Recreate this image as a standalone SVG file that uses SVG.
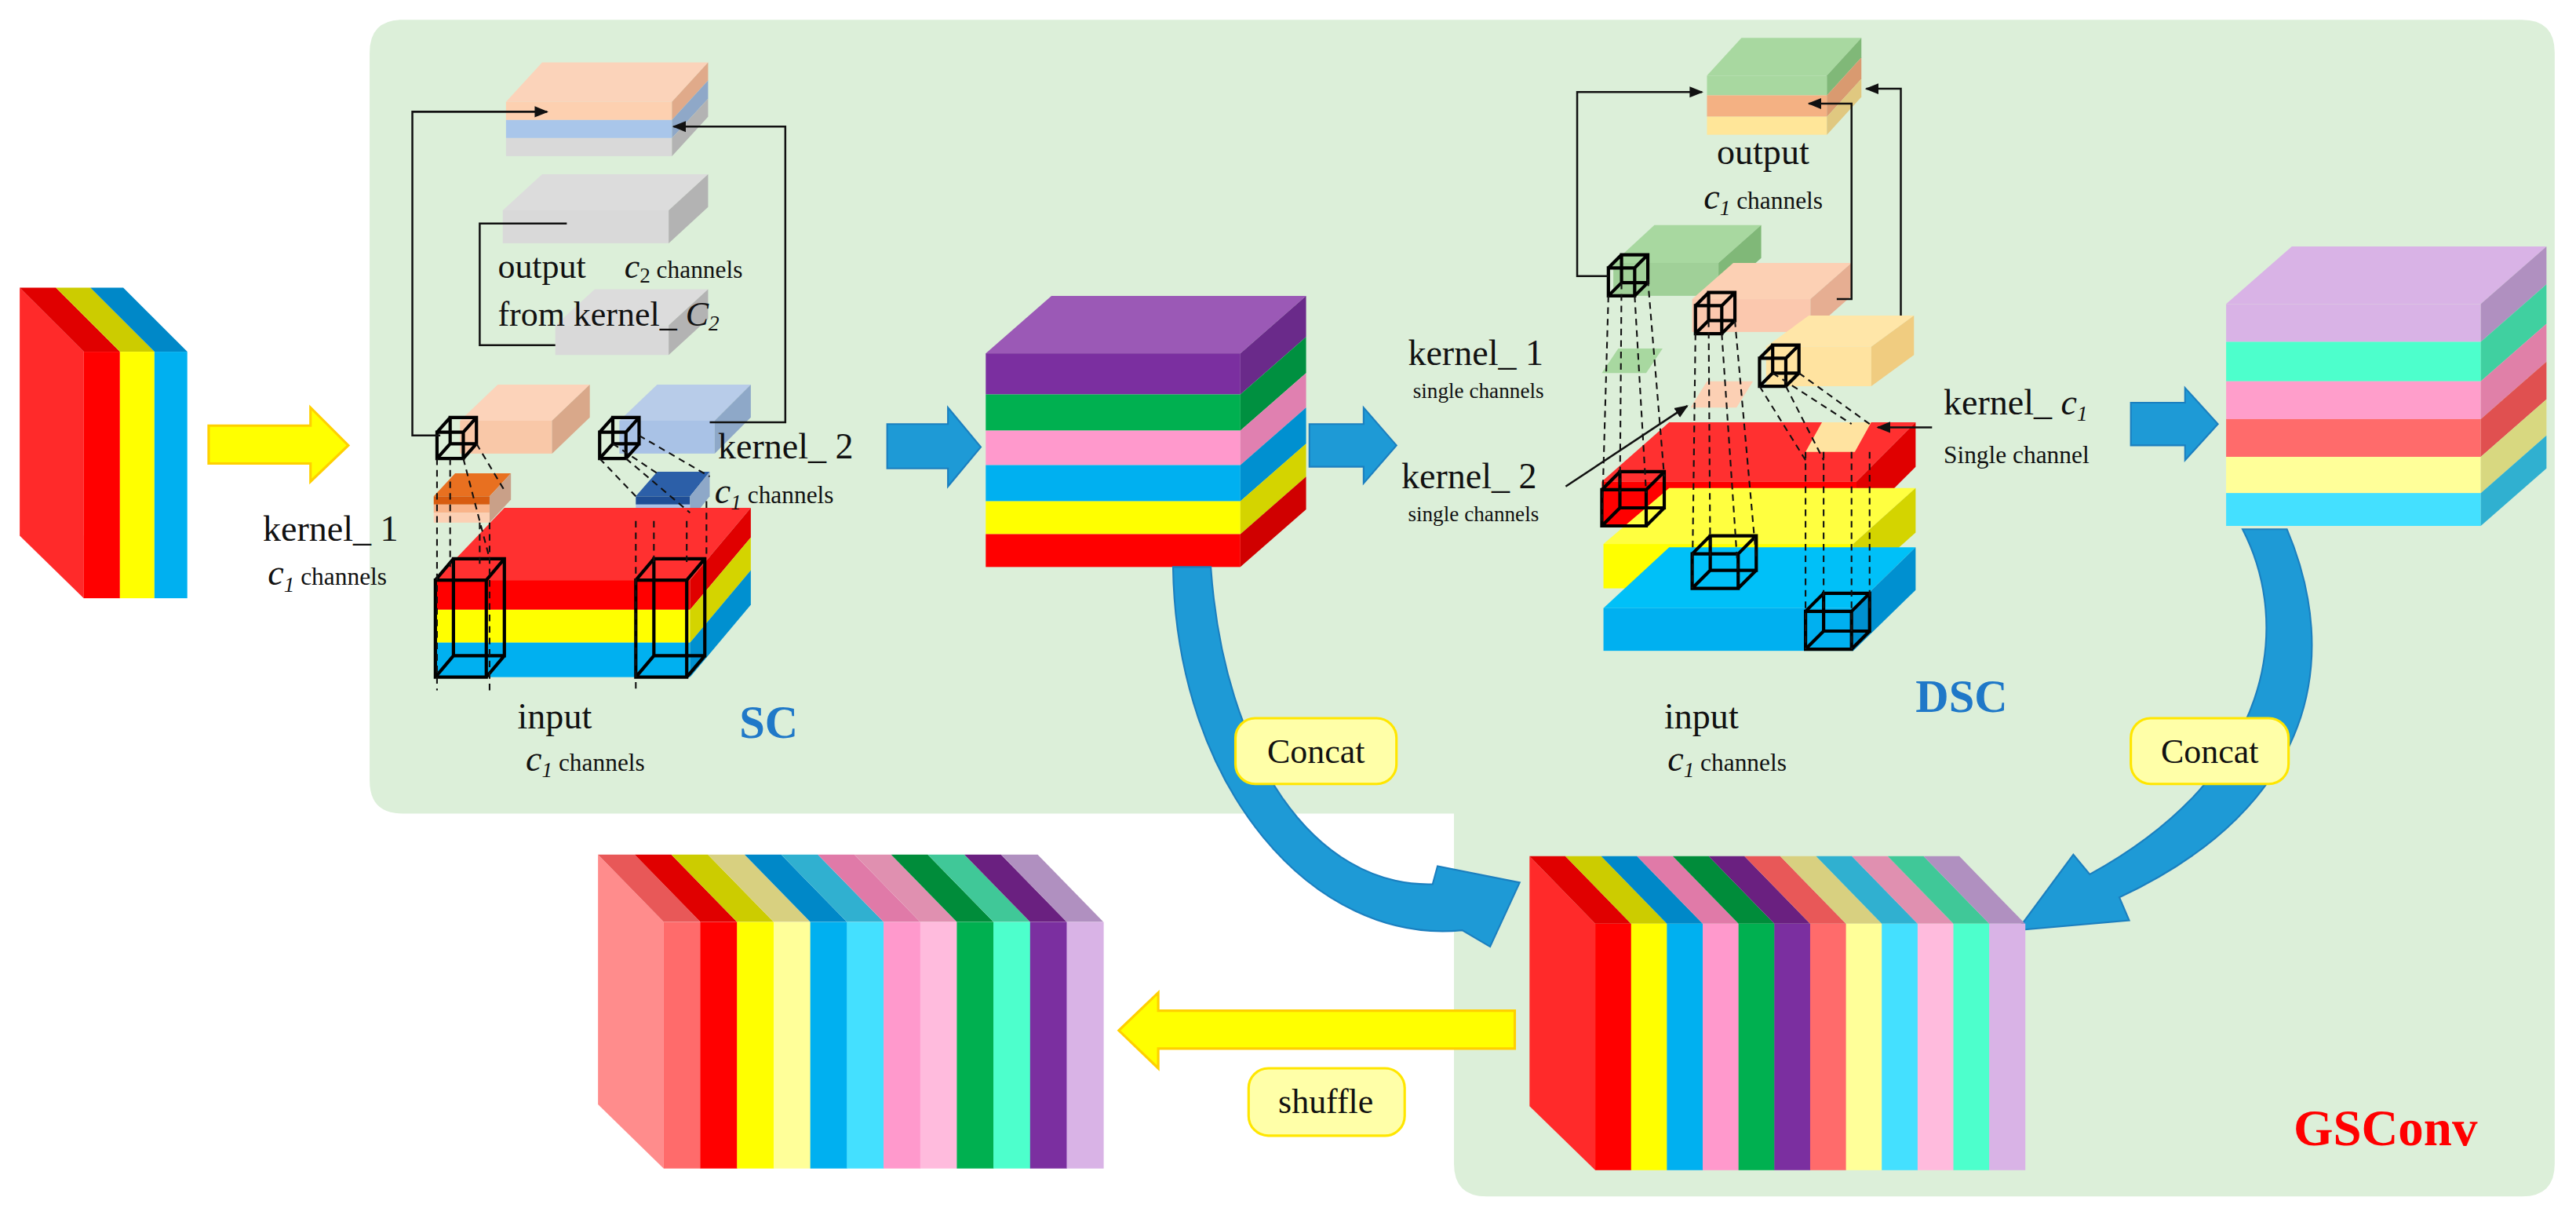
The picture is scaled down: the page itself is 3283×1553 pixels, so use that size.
<svg xmlns="http://www.w3.org/2000/svg" width="3283" height="1553" viewBox="0 0 3283 1553">
<defs>
<style>
.t{font-family:"Liberation Serif","Times New Roman",serif;fill:#111}
.wf{fill:none;stroke:#000;stroke-width:2}
.ln{fill:none;stroke:#111;stroke-width:1.2}
.ds{fill:none;stroke:#111;stroke-width:1;stroke-dasharray:4,3}
.lab{fill:#ffffa8;stroke:#ffe600;stroke-width:1.5}
.bl{fill:#1e9ad6;stroke:#1b7fbf;stroke-width:1}
.ya{fill:#ffff00;stroke:#ffd000;stroke-width:1.5}
</style>
<marker id="ah" viewBox="0 0 10 10" refX="9" refY="5" markerWidth="7" markerHeight="7" orient="auto-start-reverse"><path d="M0,1 L10,5 L0,9 Z" fill="#111"/></marker>
<rect id="csf" x="0" y="562" width="22" height="150"/>
<polygon id="csb" points="-40,521 -18.2,521 21.8,562 0,562"/>
<rect id="ssf" x="0" y="561" width="22.5" height="150"/>
<polygon id="ssb" points="-40,520 -17.7,520 22.3,561 0,561"/>
</defs>
<rect width="3283" height="1553" fill="#fff"/>
<g transform="scale(2.0938)">
<path id="panel" d="M245,12 H1535 Q1555,12 1555,32 V708 Q1555,728 1535,728 H905 Q885,728 885,708 V495 H245 Q225,495 225,475 V32 Q225,12 245,12 Z" fill="#dcefd9"/>

<g id="input-block">
<polygon points="12,175 51,214 51,364 12,326" fill="#ff2a2a"/>
<polygon points="12,175 34,175 73,214 51,214" fill="#e00000"/>
<polygon points="34,175 55,175 94,214 73,214" fill="#cccc00"/>
<polygon points="55,175 75,175 114,214 94,214" fill="#0088c8"/>
<rect x="51" y="214" width="22" height="150" fill="#ff0000"/>
<rect x="73" y="214" width="21" height="150" fill="#ffff00"/>
<rect x="94" y="214" width="20" height="150" fill="#00b0f0"/>
</g>
<polygon id="arrow-in" class="ya" points="127,259 189,259 189,248 212,271 189,293 189,282 127,282"/>

<g id="sc-output">
<polygon points="330,38 431,38 409,62 308,62" fill="#fbd3ba"/>
<rect x="308" y="62" width="101" height="11" fill="#fdd0b0"/>
<rect x="308" y="73" width="101" height="11" fill="#a9c6ea"/>
<rect x="308" y="84" width="101" height="11" fill="#d9d9d9"/>
<polygon points="409,62 431,38 431,49 409,73" fill="#e0aa8a"/>
<polygon points="409,73 431,49 431,60 409,84" fill="#8fa8c8"/>
<polygon points="409,84 431,60 431,71 409,95" fill="#b3b3b3"/>
</g>
<g id="sc-grey">
<polygon points="330,106 431,106 407,128 306,128" fill="#dcdcdc"/>
<rect x="306" y="128" width="101" height="20" fill="#d9d9d9"/>
<polygon points="407,128 431,106 431,126 407,148" fill="#b3b3b3"/>
<polygon points="362,176 431,176 407,198 338,198" fill="#dcdcdc"/>
<rect x="338" y="198" width="69" height="18" fill="#d9d9d9"/>
<polygon points="407,198 431,176 431,194 407,216" fill="#b3b3b3"/>
</g>
<g id="sc-text" class="t">
<text x="303" y="169" font-size="21">output</text>
<text x="380" y="169" font-size="21"><tspan font-style="italic">c</tspan><tspan font-size="13" dy="3">2</tspan><tspan font-size="15" dy="-3"> channels</tspan></text>
<text x="303" y="198" font-size="21">from kernel_ <tspan font-style="italic">C</tspan><tspan font-size="13" font-style="italic" dy="3">2</tspan></text>
</g>
<g id="sc-kernels">
<polygon points="303,234 359,234 336,256 280,256" fill="#fcd3ba"/>
<rect x="280" y="256" width="56" height="20" fill="#f9c8a8"/>
<polygon points="336,256 359,234 359,254 336,276" fill="#d9a88a"/>
<polygon points="400,234 457,234 435,256 377,256" fill="#b8cce9"/>
<rect x="377" y="256" width="58" height="20" fill="#a9c2e6"/>
<polygon points="435,256 457,234 457,254 435,276" fill="#8ea8c8"/>
<polygon points="277,288 311,288 298,302 264,302" fill="#e87020"/>
<rect x="264" y="302" width="34" height="5" fill="#d85c10"/>
<rect x="264" y="307" width="34" height="5" fill="#f9b48a"/>
<rect x="264" y="312" width="34" height="6" fill="#fcd0b4"/>
<polygon points="298,302 311,288 311,304 298,318" fill="#c9a088"/>
<polygon points="400,287 432,287 420,302 387,302" fill="#2c5fa8"/>
<rect x="387" y="302" width="33" height="5" fill="#1f4e96"/>
<rect x="387" y="307" width="33" height="5" fill="#a9c2e8"/>
<rect x="387" y="312" width="33" height="5" fill="#c4d6f0"/>
<polygon points="420,302 432,287 432,302 420,317" fill="#8ea8c8"/>
</g>
<g id="sc-input">
<polygon points="307,309 457,309 420,353 265,353" fill="#ff3030"/>
<rect x="265" y="353" width="155" height="18" fill="#ff0000"/>
<rect x="265" y="371" width="155" height="20" fill="#ffff00"/>
<rect x="265" y="391" width="155" height="21" fill="#00b0f0"/>
<polygon points="420,353 457,309 457,327 420,371" fill="#e00000"/>
<polygon points="420,371 457,327 457,347 420,391" fill="#d4d400"/>
<polygon points="420,391 457,347 457,368 420,412" fill="#0090d0"/>
</g>
<g id="sc-wire">
<path class="wf" d="M265,353 H296 V412 H265 Z M276,340 H307 V399 H276 Z M265,353 L276,340 M296,353 L307,340 M296,412 L307,399 M265,412 L276,399"/>
<path class="wf" d="M387,353 H418 V412 H387 Z M398,340 H429 V399 H398 Z M387,353 L398,340 M418,353 L429,340 M418,412 L429,399 M387,412 L398,399"/>
<path class="wf" stroke-width="1.6" d="M266,263 H282 V279 H266 Z M274,254 H290 V270 H274 Z M266,263 L274,254 M282,263 L290,254 M282,279 L290,270 M266,279 L274,270"/>
<path class="wf" stroke-width="1.6" d="M365,263 H381 V279 H365 Z M373,254 H389 V270 H373 Z M365,263 L373,254 M381,263 L389,254 M381,279 L389,270 M365,279 L373,270"/>
<path class="ds" d="M266,279 V420 M274,279 V345 M282,279 L298,340 M290,270 L308,300 M365,279 L387,302 M373,270 L400,288 M381,279 L420,312 M389,265 L432,290 M387,317 V420 M398,317 V345 M418,317 V345 M430,305 V340 M292,318 V345 M298,318 V420"/>
</g>
<g id="sc-labels" class="t">
<text x="160" y="329" font-size="22">kernel_ 1</text>
<text x="163" y="356" font-size="22"><tspan font-style="italic">c</tspan><tspan font-size="13" font-style="italic" dy="4">1</tspan><tspan font-size="15" dy="-4"> channels</tspan></text>
<text x="437" y="279" font-size="22">kernel_ 2</text>
<text x="435" y="306" font-size="22"><tspan font-style="italic">c</tspan><tspan font-size="13" font-style="italic" dy="4">1</tspan><tspan font-size="15" dy="-4"> channels</tspan></text>
<text x="315" y="443" font-size="22">input</text>
<text x="320" y="469" font-size="22"><tspan font-style="italic">c</tspan><tspan font-size="13" font-style="italic" dy="4">1</tspan><tspan font-size="15" dy="-4"> channels</tspan></text>
<text x="450" y="449" font-size="28" font-weight="bold" style="fill:#1f78c8">SC</text>
</g>
<polygon id="arrow-sc" class="bl" points="540,258 577,258 577,248 597,272 577,296 577,285 540,285"/>

<g id="sc-result">
<polygon points="640,180 795,180 755,215 600,215" fill="#9b59b6"/>
<rect x="600" y="215" width="155" height="25" fill="#7b2fa0"/>
<rect x="600" y="240" width="155" height="22" fill="#00b050"/>
<rect x="600" y="262" width="155" height="21" fill="#ff99cc"/>
<rect x="600" y="283" width="155" height="22" fill="#00b0f0"/>
<rect x="600" y="305" width="155" height="20" fill="#ffff00"/>
<rect x="600" y="325" width="155" height="20" fill="#ff0000"/>
<polygon points="755,215 795,180 795,205 755,240" fill="#6a2a8a"/>
<polygon points="755,240 795,205 795,227 755,262" fill="#009040"/>
<polygon points="755,262 795,227 795,248 755,283" fill="#e080b0"/>
<polygon points="755,283 795,248 795,270 755,305" fill="#0090d0"/>
<polygon points="755,305 795,270 795,290 755,325" fill="#d4d400"/>
<polygon points="755,325 795,290 795,310 755,345" fill="#d00000"/>
</g>
<polygon id="arrow-dsc" class="bl" points="797,258 830,258 830,248 850,271 830,294 830,284 797,284"/>

<g id="dsc-output">
<polygon points="1060,23 1133,23 1112,46 1039,46" fill="#a8d8a0"/>
<rect x="1039" y="46" width="73" height="12" fill="#a8d8a0"/>
<rect x="1039" y="58" width="73" height="13" fill="#f4b183"/>
<rect x="1039" y="71" width="73" height="11" fill="#ffe699"/>
<polygon points="1112,46 1133,23 1133,35 1112,58" fill="#80b878"/>
<polygon points="1112,58 1133,35 1133,48 1112,71" fill="#d99a70"/>
<polygon points="1112,71 1133,48 1133,59 1112,82" fill="#e0c880"/>
</g>
<g id="dsc-slabs">
<polygon points="1007,137 1072,137 1046,160 982,160" fill="#a8d8a0"/>
<rect x="982" y="160" width="64" height="20" fill="#a0d098"/>
<polygon points="1046,160 1072,137 1072,157 1046,180" fill="#80b878"/>
<polygon points="1055,160 1127,160 1102,182 1030,182" fill="#fcd0b4"/>
<rect x="1030" y="182" width="72" height="20" fill="#fbc8ae"/>
<polygon points="1102,182 1127,160 1127,180 1102,202" fill="#e6ae92"/>
<polygon points="1101,192 1165,192 1139,211 1075,211" fill="#ffe6a8"/>
<rect x="1075" y="211" width="64" height="24" fill="#ffe3a0"/>
<polygon points="1139,211 1165,192 1165,216 1139,235" fill="#f0cc80"/>
<polygon points="1016,257 1166,257 1130,293 975,293" fill="#ff3030"/>
<rect x="975" y="293" width="155" height="27" fill="#ff0000"/>
<polygon points="1130,293 1166,257 1166,284 1130,320" fill="#e00000"/>
<polygon points="1016,297 1166,297 1128,331 976,331" fill="#ffff40"/>
<rect x="976" y="331" width="152" height="27" fill="#ffff00"/>
<polygon points="1128,331 1166,297 1166,324 1128,358" fill="#d4d400"/>
<polygon points="1016,333 1166,333 1128,370 976,370" fill="#00c0f8"/>
<rect x="976" y="370" width="152" height="26" fill="#00b0f0"/>
<polygon points="1128,370 1166,333 1166,359 1128,396" fill="#0090d0"/>
<polygon points="985,212 1012,212 1002,227 975,227" fill="#a8d8a0"/>
<polygon points="1039,232 1067,232 1057,248 1029,248" fill="#fcd0b4"/>
<polygon points="1109,257 1139,257 1129,275 1099,275" fill="#ffe3a0"/>
</g>
<g id="dsc-wire">
<path class="wf" stroke-width="1.6" d="M979,163 H995 V180 H979 Z M987,155 H1003 V172 H987 Z M979,163 L987,155 M995,163 L1003,155 M995,180 L1003,172 M979,180 L987,172"/>
<path class="wf" stroke-width="1.6" d="M1032,186 H1048 V203 H1032 Z M1040,178 H1056 V195 H1040 Z M1032,186 L1040,178 M1048,186 L1056,178 M1048,203 L1056,195 M1032,203 L1040,195"/>
<path class="wf" stroke-width="1.6" d="M1071,218 H1087 V235 H1071 Z M1079,210 H1095 V227 H1079 Z M1071,218 L1079,210 M1087,218 L1095,210 M1087,235 L1095,227 M1071,235 L1079,227"/>
<path class="wf" d="M975,298 H1002 V320 H975 Z M986,287 H1013 V309 H986 Z M975,298 L986,287 M1002,298 L1013,287 M1002,320 L1013,309 M975,320 L986,309"/>
<path class="wf" d="M1030,337 H1058 V358 H1030 Z M1041,326 H1069 V347 H1041 Z M1030,337 L1041,326 M1058,337 L1069,326 M1058,358 L1069,347 M1030,358 L1041,347"/>
<path class="wf" d="M1099,372 H1127 V395 H1099 Z M1110,361 H1138 V384 H1110 Z M1099,372 L1110,361 M1127,372 L1138,361 M1127,395 L1138,384 M1099,395 L1110,384"/>
<path class="ds" d="M979,180 L975,320 M987,172 L986,300 M995,180 L1002,300 M1003,170 L1013,290 M1032,203 L1030,358 M1040,195 L1041,340 M1048,203 L1058,350 M1056,195 L1069,340 M1071,235 L1099,280 M1087,235 L1110,280 M1095,227 L1138,258 M1079,227 L1127,258 M1099,275 V395 M1110,275 V370 M1127,275 V395 M1138,275 V370"/>
</g>
<g id="dsc-labels" class="t">
<text x="1045" y="100" font-size="22">output</text>
<text x="1037" y="127" font-size="22"><tspan font-style="italic">c</tspan><tspan font-size="13" font-style="italic" dy="4">1</tspan><tspan font-size="15" dy="-4"> channels</tspan></text>
<text x="857" y="222" font-size="22">kernel_ 1</text>
<text x="860" y="242" font-size="13">single channels</text>
<text x="853" y="297" font-size="22">kernel_ 2</text>
<text x="857" y="317" font-size="13">single channels</text>
<text x="1183" y="252" font-size="22">kernel_ <tspan font-style="italic">c</tspan><tspan font-size="13" font-style="italic" dy="4">1</tspan></text>
<text x="1183" y="282" font-size="15">Single channel</text>
<text x="1013" y="443" font-size="22">input</text>
<text x="1015" y="469" font-size="22"><tspan font-style="italic">c</tspan><tspan font-size="13" font-style="italic" dy="4">1</tspan><tspan font-size="15" dy="-4"> channels</tspan></text>
<text x="1166" y="433" font-size="28" font-weight="bold" style="fill:#1f78c8">DSC</text>
</g>
<polygon id="arrow-out" class="bl" points="1297,245 1330,245 1330,236 1350,258 1330,280 1330,271 1297,271"/>

<g id="dsc-result">
<polygon points="1395,150 1550,150 1510,185 1355,185" fill="#d9b3e6"/>
<rect x="1355" y="185" width="155" height="23" fill="#d9b3e6"/>
<rect x="1355" y="208" width="155" height="24" fill="#4dffcc"/>
<rect x="1355" y="232" width="155" height="23" fill="#ff9ecb"/>
<rect x="1355" y="255" width="155" height="23" fill="#ff6b6b"/>
<rect x="1355" y="278" width="155" height="22" fill="#ffff99"/>
<rect x="1355" y="300" width="155" height="20" fill="#44e0ff"/>
<polygon points="1510,185 1550,150 1550,173 1510,208" fill="#b090c0"/>
<polygon points="1510,208 1550,173 1550,197 1510,232" fill="#40d0a0"/>
<polygon points="1510,232 1550,197 1550,220 1510,255" fill="#e080a8"/>
<polygon points="1510,255 1550,220 1550,243 1510,278" fill="#e05050"/>
<polygon points="1510,278 1550,243 1550,265 1510,300" fill="#d8d880"/>
<polygon points="1510,300 1550,265 1550,285 1510,320" fill="#30b0d0"/>
</g>

<g id="connectors">
<path class="ln" d="M268,265 H251 V68 H333" marker-end="url(#ah)"/>
<path class="ln" d="M345,136 H292 V210 H338"/>
<path class="ln" d="M432,257 H478 V77 H410" marker-end="url(#ah)"/>
<path class="ln" d="M979,168 H960 V56 H1036" marker-end="url(#ah)"/>
<path class="ln" d="M1118,182 H1127 V63 H1101" marker-end="url(#ah)"/>
<path class="ln" d="M1157,192 V54 H1136" marker-end="url(#ah)"/>
<path class="ln" d="M953,296 L1027,247" marker-end="url(#ah)"/>
<path class="ln" d="M1176,260 H1143" marker-end="url(#ah)"/>
<path id="concat-l" class="bl" d="M714,345 C716,480 800,575 890,566 L907,576 L925,537 L875,527 L872,538 C800,540 745,460 737,345 Z"/>
<path id="concat-r" class="bl" d="M1365,322 C1395,380 1385,470 1272,532 L1262,520 L1228,566 L1296,560 L1290,546 C1410,490 1425,400 1392,322 Z"/>
<polygon id="arrow-shuffle" class="ya" points="922,615 705,615 705,604 681,627 705,650 705,638 922,638"/>
</g>

<g id="label-concat1"><rect class="lab" x="752" y="437" width="98" height="40" rx="12"/><text class="t" x="801" y="464" font-size="21" text-anchor="middle">Concat</text></g>
<g id="label-concat2"><rect class="lab" x="1297" y="437" width="96" height="40" rx="12"/><text class="t" x="1345" y="464" font-size="21" text-anchor="middle">Concat</text></g>
<g id="label-shuffle"><rect class="lab" x="760" y="650" width="95" height="41" rx="12"/><text class="t" x="807" y="677" font-size="21" text-anchor="middle">shuffle</text></g>
<text class="t" x="1396" y="697" font-size="31" font-weight="bold" style="fill:#ff0000">GSConv</text>

<g id="concat-stack">
<polygon points="931,521 971,562 971,712 931,673" fill="#ff2a2a"/>
<use href="#csb" x="971" fill="#e00000"/><use href="#csf" x="971" fill="#ff0000"/>
<use href="#csb" x="992.8" fill="#cccc00"/><use href="#csf" x="992.8" fill="#ffff00"/>
<use href="#csb" x="1014.6" fill="#0088c8"/><use href="#csf" x="1014.6" fill="#00b0f0"/>
<use href="#csb" x="1036.4" fill="#e07aa8"/><use href="#csf" x="1036.4" fill="#ff99cc"/>
<use href="#csb" x="1058.2" fill="#008c3a"/><use href="#csf" x="1058.2" fill="#00b050"/>
<use href="#csb" x="1080" fill="#6a2080"/><use href="#csf" x="1080" fill="#7b2fa0"/>
<use href="#csb" x="1101.8" fill="#e85858"/><use href="#csf" x="1101.8" fill="#ff6b6b"/>
<use href="#csb" x="1123.6" fill="#d8d080"/><use href="#csf" x="1123.6" fill="#ffff99"/>
<use href="#csb" x="1145.4" fill="#30b0d0"/><use href="#csf" x="1145.4" fill="#44e0ff"/>
<use href="#csb" x="1167.2" fill="#e090b0"/><use href="#csf" x="1167.2" fill="#ffbbdd"/>
<use href="#csb" x="1189" fill="#40c898"/><use href="#csf" x="1189" fill="#4dffcc"/>
<use href="#csb" x="1210.8" fill="#b090c0"/><use href="#csf" x="1210.8" fill="#d9b3e6"/>
</g>

<g id="shuffled-stack">
<polygon points="364,520 404,561 404,711 364,672" fill="#ff8c8c"/>
<use href="#ssb" x="404" fill="#e85858"/><use href="#ssf" x="404" fill="#ff6b6b"/>
<use href="#ssb" x="426.3" fill="#e00000"/><use href="#ssf" x="426.3" fill="#ff0000"/>
<use href="#ssb" x="448.6" fill="#cccc00"/><use href="#ssf" x="448.6" fill="#ffff00"/>
<use href="#ssb" x="470.9" fill="#d8d080"/><use href="#ssf" x="470.9" fill="#ffff99"/>
<use href="#ssb" x="493.2" fill="#0088c8"/><use href="#ssf" x="493.2" fill="#00b0f0"/>
<use href="#ssb" x="515.5" fill="#30b0d0"/><use href="#ssf" x="515.5" fill="#44e0ff"/>
<use href="#ssb" x="537.8" fill="#e07aa8"/><use href="#ssf" x="537.8" fill="#ff99cc"/>
<use href="#ssb" x="560.1" fill="#e090b0"/><use href="#ssf" x="560.1" fill="#ffbbdd"/>
<use href="#ssb" x="582.4" fill="#008c3a"/><use href="#ssf" x="582.4" fill="#00b050"/>
<use href="#ssb" x="604.7" fill="#40c898"/><use href="#ssf" x="604.7" fill="#4dffcc"/>
<use href="#ssb" x="627" fill="#6a2080"/><use href="#ssf" x="627" fill="#7b2fa0"/>
<use href="#ssb" x="649.3" fill="#b090c0"/><use href="#ssf" x="649.3" fill="#d9b3e6"/>
</g>
</g>
</svg>
